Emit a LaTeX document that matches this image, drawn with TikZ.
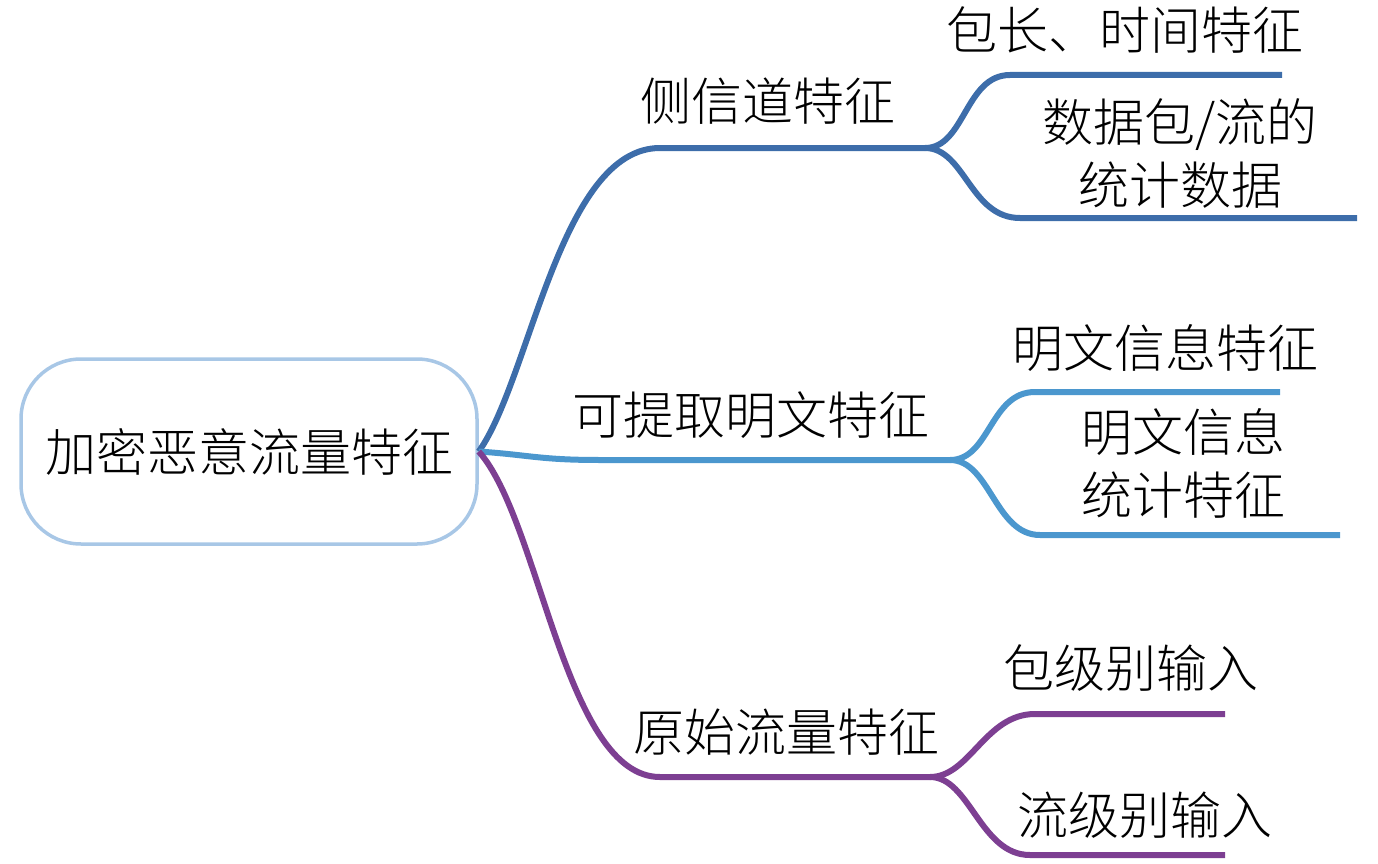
\documentclass[tikz,border=0pt]{standalone}
\usepackage{fontspec}
\setmainfont{Noto Sans CJK SC Light}
\definecolor{rootc}{HTML}{A8C7E6}
\definecolor{cone}{HTML}{3D6DAA}
\definecolor{ctwo}{HTML}{4B97CE}
\definecolor{cthree}{HTML}{7D3F92}
\begin{document}
\begin{tikzpicture}[x=1pt,y=-1pt,
  lbl/.style={font=\fontsize{51}{63}\selectfont, inner sep=0pt, align=center, text=black},
  br/.style={line width=6pt, line cap=butt},
]
\useasboundingbox (0,0) rectangle (1378,864);
\node[draw=rootc, line width=3.5pt, rounded corners=60pt, minimum width=456pt, minimum height=185pt, inner sep=0pt, lbl] (root) at (249,451.5) {加密恶意流量特征};

\coordinate (f1) at (925,148);
\coordinate (f2) at (950,460);
\coordinate (f3) at (930,777);
\coordinate (e11) at (1282,75);
\coordinate (e12) at (1357,218);
\coordinate (e21) at (1280,392);
\coordinate (e22) at (1340,535);
\coordinate (e31) at (1225,714);
\coordinate (e32) at (1225,855);

\draw[br,cone] (root.east) .. controls (530,380) and (560,148) .. (660,148) -- (f1);
\draw[br,ctwo] (root.east) .. controls (530,455) and (540,460) .. (600,460) -- (f2);
\draw[br,cthree] (root.east) .. controls (540,520) and (565,777) .. (660,777) -- (f3);

\draw[br,cone] (f1) .. controls (965,148) and (965,75) .. (1010,75) -- (e11);
\draw[br,cone] (f1) .. controls (965,148) and (970,218) .. (1020,218) -- (e12);
\draw[br,ctwo] (f2) .. controls (990,460) and (990,392) .. (1035,392) -- (e21);
\draw[br,ctwo] (f2) .. controls (990,460) and (995,535) .. (1040,535) -- (e22);
\draw[br,cthree] (f3) .. controls (970,777) and (985,714) .. (1035,714) -- (e31);
\draw[br,cthree] (f3) .. controls (970,777) and (980,855) .. (1030,855) -- (e32);

\node[lbl] (l1) at (768,101) {侧信道特征};
\node[lbl] (l11) at (1125,30) {包长、时间特征};
\node[lbl] (l12) at (1180,153.5) {数据包/流的\\统计数据};
\node[lbl] (l2) at (751,415) {可提取明文特征};
\node[lbl] (l21) at (1165,348) {明文信息特征};
\node[lbl] (l22) at (1183,463) {明文信息\\统计特征};
\node[lbl] (l3) at (786,732) {原始流量特征};
\node[lbl] (l31) at (1131,668) {包级别输入};
\node[lbl] (l32) at (1145,815) {流级别输入};
\end{tikzpicture}
\end{document}
